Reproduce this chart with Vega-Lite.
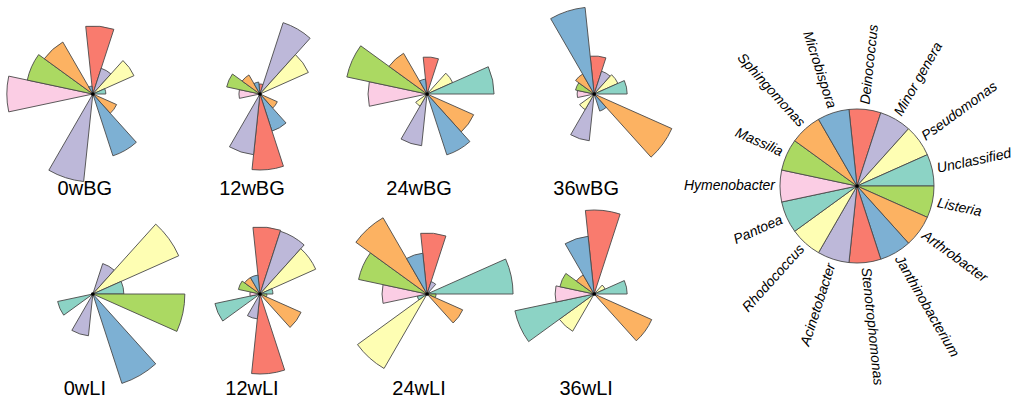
{
  "$schema": "https://vega.github.io/schema/vega-lite/v6.json",
  "background": "white",
  "padding": 5,
  "bounds": "flush",
  "spacing": 46,
  "config": {"view": {"stroke": null}},
  "datasets": {
    "roses": [
      {"sample":"0wBG","week":"0w","site":"BG","genus":"Deinococcus","idx":0,"value":68},
      {"sample":"0wBG","week":"0w","site":"BG","genus":"Minor genera","idx":1,"value":27},
      {"sample":"0wBG","week":"0w","site":"BG","genus":"Pseudomonas","idx":2,"value":45},
      {"sample":"0wBG","week":"0w","site":"BG","genus":"Unclassified","idx":3,"value":13},
      {"sample":"0wBG","week":"0w","site":"BG","genus":"Listeria","idx":4,"value":2},
      {"sample":"0wBG","week":"0w","site":"BG","genus":"Arthrobacter","idx":5,"value":26},
      {"sample":"0wBG","week":"0w","site":"BG","genus":"Janthinobacterium","idx":6,"value":65},
      {"sample":"0wBG","week":"0w","site":"BG","genus":"Stenotrophomonas","idx":7,"value":2},
      {"sample":"0wBG","week":"0w","site":"BG","genus":"Acinetobacter","idx":8,"value":88},
      {"sample":"0wBG","week":"0w","site":"BG","genus":"Rhodococcus","idx":9,"value":0},
      {"sample":"0wBG","week":"0w","site":"BG","genus":"Pantoea","idx":10,"value":0},
      {"sample":"0wBG","week":"0w","site":"BG","genus":"Hymenobacter","idx":11,"value":86},
      {"sample":"0wBG","week":"0w","site":"BG","genus":"Massilia","idx":12,"value":67},
      {"sample":"0wBG","week":"0w","site":"BG","genus":"Sphingomonas","idx":13,"value":60},
      {"sample":"0wBG","week":"0w","site":"BG","genus":"Microbispora","idx":14,"value":8},

      {"sample":"12wBG","week":"12w","site":"BG","genus":"Deinococcus","idx":0,"value":10},
      {"sample":"12wBG","week":"12w","site":"BG","genus":"Minor genera","idx":1,"value":75},
      {"sample":"12wBG","week":"12w","site":"BG","genus":"Pseudomonas","idx":2,"value":53},
      {"sample":"12wBG","week":"12w","site":"BG","genus":"Unclassified","idx":3,"value":0},
      {"sample":"12wBG","week":"12w","site":"BG","genus":"Listeria","idx":4,"value":0},
      {"sample":"12wBG","week":"12w","site":"BG","genus":"Arthrobacter","idx":5,"value":19},
      {"sample":"12wBG","week":"12w","site":"BG","genus":"Janthinobacterium","idx":6,"value":39},
      {"sample":"12wBG","week":"12w","site":"BG","genus":"Stenotrophomonas","idx":7,"value":76},
      {"sample":"12wBG","week":"12w","site":"BG","genus":"Acinetobacter","idx":8,"value":61},
      {"sample":"12wBG","week":"12w","site":"BG","genus":"Rhodococcus","idx":9,"value":0},
      {"sample":"12wBG","week":"12w","site":"BG","genus":"Pantoea","idx":10,"value":0},
      {"sample":"12wBG","week":"12w","site":"BG","genus":"Hymenobacter","idx":11,"value":21},
      {"sample":"12wBG","week":"12w","site":"BG","genus":"Massilia","idx":12,"value":34},
      {"sample":"12wBG","week":"12w","site":"BG","genus":"Sphingomonas","idx":13,"value":22},
      {"sample":"12wBG","week":"12w","site":"BG","genus":"Microbispora","idx":14,"value":12},

      {"sample":"24wBG","week":"24w","site":"BG","genus":"Deinococcus","idx":0,"value":37},
      {"sample":"24wBG","week":"24w","site":"BG","genus":"Minor genera","idx":1,"value":3},
      {"sample":"24wBG","week":"24w","site":"BG","genus":"Pseudomonas","idx":2,"value":28},
      {"sample":"24wBG","week":"24w","site":"BG","genus":"Unclassified","idx":3,"value":67},
      {"sample":"24wBG","week":"24w","site":"BG","genus":"Listeria","idx":4,"value":0},
      {"sample":"24wBG","week":"24w","site":"BG","genus":"Arthrobacter","idx":5,"value":51},
      {"sample":"24wBG","week":"24w","site":"BG","genus":"Janthinobacterium","idx":6,"value":64},
      {"sample":"24wBG","week":"24w","site":"BG","genus":"Stenotrophomonas","idx":7,"value":0},
      {"sample":"24wBG","week":"24w","site":"BG","genus":"Acinetobacter","idx":8,"value":52},
      {"sample":"24wBG","week":"24w","site":"BG","genus":"Rhodococcus","idx":9,"value":14},
      {"sample":"24wBG","week":"24w","site":"BG","genus":"Pantoea","idx":10,"value":0},
      {"sample":"24wBG","week":"24w","site":"BG","genus":"Hymenobacter","idx":11,"value":59},
      {"sample":"24wBG","week":"24w","site":"BG","genus":"Massilia","idx":12,"value":82},
      {"sample":"24wBG","week":"24w","site":"BG","genus":"Sphingomonas","idx":13,"value":47},
      {"sample":"24wBG","week":"24w","site":"BG","genus":"Microbispora","idx":14,"value":15},

      {"sample":"36wBG","week":"36w","site":"BG","genus":"Deinococcus","idx":0,"value":38},
      {"sample":"36wBG","week":"36w","site":"BG","genus":"Minor genera","idx":1,"value":24},
      {"sample":"36wBG","week":"36w","site":"BG","genus":"Pseudomonas","idx":2,"value":26},
      {"sample":"36wBG","week":"36w","site":"BG","genus":"Unclassified","idx":3,"value":33},
      {"sample":"36wBG","week":"36w","site":"BG","genus":"Listeria","idx":4,"value":0},
      {"sample":"36wBG","week":"36w","site":"BG","genus":"Arthrobacter","idx":5,"value":85},
      {"sample":"36wBG","week":"36w","site":"BG","genus":"Janthinobacterium","idx":6,"value":18},
      {"sample":"36wBG","week":"36w","site":"BG","genus":"Stenotrophomonas","idx":7,"value":0},
      {"sample":"36wBG","week":"36w","site":"BG","genus":"Acinetobacter","idx":8,"value":47},
      {"sample":"36wBG","week":"36w","site":"BG","genus":"Rhodococcus","idx":9,"value":18},
      {"sample":"36wBG","week":"36w","site":"BG","genus":"Pantoea","idx":10,"value":0},
      {"sample":"36wBG","week":"36w","site":"BG","genus":"Hymenobacter","idx":11,"value":17},
      {"sample":"36wBG","week":"36w","site":"BG","genus":"Massilia","idx":12,"value":19},
      {"sample":"36wBG","week":"36w","site":"BG","genus":"Sphingomonas","idx":13,"value":23},
      {"sample":"36wBG","week":"36w","site":"BG","genus":"Microbispora","idx":14,"value":87},

      {"sample":"0wLI","week":"0w","site":"LI","genus":"Deinococcus","idx":0,"value":0},
      {"sample":"0wLI","week":"0w","site":"LI","genus":"Minor genera","idx":1,"value":32},
      {"sample":"0wLI","week":"0w","site":"LI","genus":"Pseudomonas","idx":2,"value":94},
      {"sample":"0wLI","week":"0w","site":"LI","genus":"Unclassified","idx":3,"value":31},
      {"sample":"0wLI","week":"0w","site":"LI","genus":"Listeria","idx":4,"value":92},
      {"sample":"0wLI","week":"0w","site":"LI","genus":"Arthrobacter","idx":5,"value":0},
      {"sample":"0wLI","week":"0w","site":"LI","genus":"Janthinobacterium","idx":6,"value":94},
      {"sample":"0wLI","week":"0w","site":"LI","genus":"Stenotrophomonas","idx":7,"value":0},
      {"sample":"0wLI","week":"0w","site":"LI","genus":"Acinetobacter","idx":8,"value":42},
      {"sample":"0wLI","week":"0w","site":"LI","genus":"Rhodococcus","idx":9,"value":0},
      {"sample":"0wLI","week":"0w","site":"LI","genus":"Pantoea","idx":10,"value":36},
      {"sample":"0wLI","week":"0w","site":"LI","genus":"Hymenobacter","idx":11,"value":0},
      {"sample":"0wLI","week":"0w","site":"LI","genus":"Massilia","idx":12,"value":0},
      {"sample":"0wLI","week":"0w","site":"LI","genus":"Sphingomonas","idx":13,"value":0},
      {"sample":"0wLI","week":"0w","site":"LI","genus":"Microbispora","idx":14,"value":0},

      {"sample":"12wLI","week":"12w","site":"LI","genus":"Deinococcus","idx":0,"value":67},
      {"sample":"12wLI","week":"12w","site":"LI","genus":"Minor genera","idx":1,"value":66},
      {"sample":"12wLI","week":"12w","site":"LI","genus":"Pseudomonas","idx":2,"value":61},
      {"sample":"12wLI","week":"12w","site":"LI","genus":"Unclassified","idx":3,"value":13},
      {"sample":"12wLI","week":"12w","site":"LI","genus":"Listeria","idx":4,"value":7},
      {"sample":"12wLI","week":"12w","site":"LI","genus":"Arthrobacter","idx":5,"value":45},
      {"sample":"12wLI","week":"12w","site":"LI","genus":"Janthinobacterium","idx":6,"value":0},
      {"sample":"12wLI","week":"12w","site":"LI","genus":"Stenotrophomonas","idx":7,"value":80},
      {"sample":"12wLI","week":"12w","site":"LI","genus":"Acinetobacter","idx":8,"value":25},
      {"sample":"12wLI","week":"12w","site":"LI","genus":"Rhodococcus","idx":9,"value":0},
      {"sample":"12wLI","week":"12w","site":"LI","genus":"Pantoea","idx":10,"value":46},
      {"sample":"12wLI","week":"12w","site":"LI","genus":"Hymenobacter","idx":11,"value":10},
      {"sample":"12wLI","week":"12w","site":"LI","genus":"Massilia","idx":12,"value":22},
      {"sample":"12wLI","week":"12w","site":"LI","genus":"Sphingomonas","idx":13,"value":19},
      {"sample":"12wLI","week":"12w","site":"LI","genus":"Microbispora","idx":14,"value":19},

      {"sample":"24wLI","week":"24w","site":"LI","genus":"Deinococcus","idx":0,"value":61},
      {"sample":"24wLI","week":"24w","site":"LI","genus":"Minor genera","idx":1,"value":13},
      {"sample":"24wLI","week":"24w","site":"LI","genus":"Pseudomonas","idx":2,"value":3},
      {"sample":"24wLI","week":"24w","site":"LI","genus":"Unclassified","idx":3,"value":86},
      {"sample":"24wLI","week":"24w","site":"LI","genus":"Listeria","idx":4,"value":9},
      {"sample":"24wLI","week":"24w","site":"LI","genus":"Arthrobacter","idx":5,"value":39},
      {"sample":"24wLI","week":"24w","site":"LI","genus":"Janthinobacterium","idx":6,"value":0},
      {"sample":"24wLI","week":"24w","site":"LI","genus":"Stenotrophomonas","idx":7,"value":0},
      {"sample":"24wLI","week":"24w","site":"LI","genus":"Acinetobacter","idx":8,"value":0},
      {"sample":"24wLI","week":"24w","site":"LI","genus":"Rhodococcus","idx":9,"value":86},
      {"sample":"24wLI","week":"24w","site":"LI","genus":"Pantoea","idx":10,"value":10},
      {"sample":"24wLI","week":"24w","site":"LI","genus":"Hymenobacter","idx":11,"value":45},
      {"sample":"24wLI","week":"24w","site":"LI","genus":"Massilia","idx":12,"value":70},
      {"sample":"24wLI","week":"24w","site":"LI","genus":"Sphingomonas","idx":13,"value":88},
      {"sample":"24wLI","week":"24w","site":"LI","genus":"Microbispora","idx":14,"value":41},

      {"sample":"36wLI","week":"36w","site":"LI","genus":"Deinococcus","idx":0,"value":84},
      {"sample":"36wLI","week":"36w","site":"LI","genus":"Minor genera","idx":1,"value":0},
      {"sample":"36wLI","week":"36w","site":"LI","genus":"Pseudomonas","idx":2,"value":12},
      {"sample":"36wLI","week":"36w","site":"LI","genus":"Unclassified","idx":3,"value":33},
      {"sample":"36wLI","week":"36w","site":"LI","genus":"Listeria","idx":4,"value":0},
      {"sample":"36wLI","week":"36w","site":"LI","genus":"Arthrobacter","idx":5,"value":63},
      {"sample":"36wLI","week":"36w","site":"LI","genus":"Janthinobacterium","idx":6,"value":0},
      {"sample":"36wLI","week":"36w","site":"LI","genus":"Stenotrophomonas","idx":7,"value":0},
      {"sample":"36wLI","week":"36w","site":"LI","genus":"Acinetobacter","idx":8,"value":0},
      {"sample":"36wLI","week":"36w","site":"LI","genus":"Rhodococcus","idx":9,"value":43},
      {"sample":"36wLI","week":"36w","site":"LI","genus":"Pantoea","idx":10,"value":81},
      {"sample":"36wLI","week":"36w","site":"LI","genus":"Hymenobacter","idx":11,"value":39},
      {"sample":"36wLI","week":"36w","site":"LI","genus":"Massilia","idx":12,"value":35},
      {"sample":"36wLI","week":"36w","site":"LI","genus":"Sphingomonas","idx":13,"value":22},
      {"sample":"36wLI","week":"36w","site":"LI","genus":"Microbispora","idx":14,"value":58}
    ],
    "genera": [
      {"genus":"Deinococcus","idx":0},
      {"genus":"Minor genera","idx":1},
      {"genus":"Pseudomonas","idx":2},
      {"genus":"Unclassified","idx":3},
      {"genus":"Listeria","idx":4},
      {"genus":"Arthrobacter","idx":5},
      {"genus":"Janthinobacterium","idx":6},
      {"genus":"Stenotrophomonas","idx":7},
      {"genus":"Acinetobacter","idx":8},
      {"genus":"Rhodococcus","idx":9},
      {"genus":"Pantoea","idx":10},
      {"genus":"Hymenobacter","idx":11},
      {"genus":"Massilia","idx":12},
      {"genus":"Sphingomonas","idx":13},
      {"genus":"Microbispora","idx":14}
    ]
  },
  "hconcat": [
    {
      "width": 635,
      "height": 374,
      "data": {"name": "roses"},
      "transform": [
        {"window": [{"op": "row_number", "as": "rn"}], "groupby": ["sample"], "sort": [{"field": "idx", "order": "ascending"}]}
      ],
      "encoding": {
        "x": {"field": "week", "type": "ordinal", "scale": {"domain": ["0w","12w","24w","36w"], "padding": 0.4}, "axis": null},
        "y": {"field": "site", "type": "nominal", "scale": {"domain": ["BG","LI"], "padding": 0.435}, "axis": null}
      },
      "layer": [
        {
          "mark": {"type": "arc", "stroke": "#4a4a4a", "strokeWidth": 0.9},
          "encoding": {
            "theta": {"field": "idx", "type": "quantitative", "scale": {"domain": [0, 15], "range": [-0.10472, 6.17847]}},
            "theta2": {"field": "rn"},
            "radius": {"field": "value", "type": "quantitative", "scale": {"type": "linear", "domain": [0, 100], "range": [0, 100]}},
            "color": {
              "field": "genus", "type": "nominal", "legend": null,
              "scale": {
                "domain": ["Deinococcus","Minor genera","Pseudomonas","Unclassified","Listeria","Arthrobacter","Janthinobacterium","Stenotrophomonas","Acinetobacter","Rhodococcus","Pantoea","Hymenobacter","Massilia","Sphingomonas","Microbispora"],
                "range": ["#f97b6e","#bdb8d9","#fefeb3","#8cd3c5","#abd962","#fcb262","#7db0d3","#f97b6e","#bdb8d9","#fefeb3","#8cd3c5","#fbcde4","#abd962","#fcb262","#7db0d3"]
              }
            }
          }
        },
        {
          "transform": [{"filter": {"field": "idx", "equal": 0}}],
          "mark": {"type": "point", "filled": true, "color": "black", "size": 14, "opacity": 1},
          "encoding": {}
        },
        {
          "transform": [{"filter": {"field": "idx", "equal": 0}}],
          "mark": {"type": "text", "dy": 95, "dx": -8, "fontSize": 20, "font": "Liberation Sans", "color": "black", "baseline": "middle", "align": "center"},
          "encoding": {"text": {"field": "sample", "type": "nominal"}}
        }
      ]
    },
    {
      "width": 300,
      "height": 358,
      "data": {"name": "genera"},
      "transform": [
        {"window": [{"op": "row_number", "as": "rn"}], "sort": [{"field": "idx", "order": "ascending"}]}
      ],
      "layer": [
        {
          "mark": {"type": "arc", "radius": 77, "stroke": "#4a4a4a", "strokeWidth": 0.9},
          "encoding": {
            "theta": {"field": "idx", "type": "quantitative", "scale": {"domain": [0, 15], "range": [-0.10472, 6.17847]}},
            "theta2": {"field": "rn"},
            "color": {
              "field": "genus", "type": "nominal", "legend": null,
              "scale": {
                "domain": ["Deinococcus","Minor genera","Pseudomonas","Unclassified","Listeria","Arthrobacter","Janthinobacterium","Stenotrophomonas","Acinetobacter","Rhodococcus","Pantoea","Hymenobacter","Massilia","Sphingomonas","Microbispora"],
                "range": ["#f97b6e","#bdb8d9","#fefeb3","#8cd3c5","#abd962","#fcb262","#7db0d3","#f97b6e","#bdb8d9","#fefeb3","#8cd3c5","#fbcde4","#abd962","#fcb262","#7db0d3"]
              }
            }
          }
        },
        {
          "transform": [{"filter": {"field": "idx", "equal": 0}}],
          "mark": {"type": "point", "filled": true, "color": "black", "size": 14, "opacity": 1},
          "encoding": {}
        },
        {
          "transform": [{"filter": {"field": "idx", "lte": 7}}],
          "mark": {"type": "text", "radius": 82, "align": "left", "baseline": "middle", "fontSize": 14, "fontStyle": "italic", "font": "Liberation Sans", "color": "black"},
          "encoding": {
            "theta": {"field": "idx", "type": "quantitative", "scale": {"domain": [0, 15], "range": [0.10472, 6.38791]}},
            "angle": {"field": "idx", "type": "quantitative", "scale": {"domain": [0, 15], "range": [-84, 276]}},
            "text": {"field": "genus", "type": "nominal"}
          }
        },
        {
          "transform": [{"filter": {"field": "idx", "gte": 8}}],
          "mark": {"type": "text", "radius": 82, "align": "right", "baseline": "middle", "fontSize": 14, "fontStyle": "italic", "font": "Liberation Sans", "color": "black"},
          "encoding": {
            "theta": {"field": "idx", "type": "quantitative", "scale": {"domain": [0, 15], "range": [0.10472, 6.38791]}},
            "angle": {"field": "idx", "type": "quantitative", "scale": {"domain": [0, 15], "range": [-264, 96]}},
            "text": {"field": "genus", "type": "nominal"}
          }
        }
      ],
      "resolve": {"scale": {"theta": "independent", "angle": "independent"}}
    }
  ]
}
